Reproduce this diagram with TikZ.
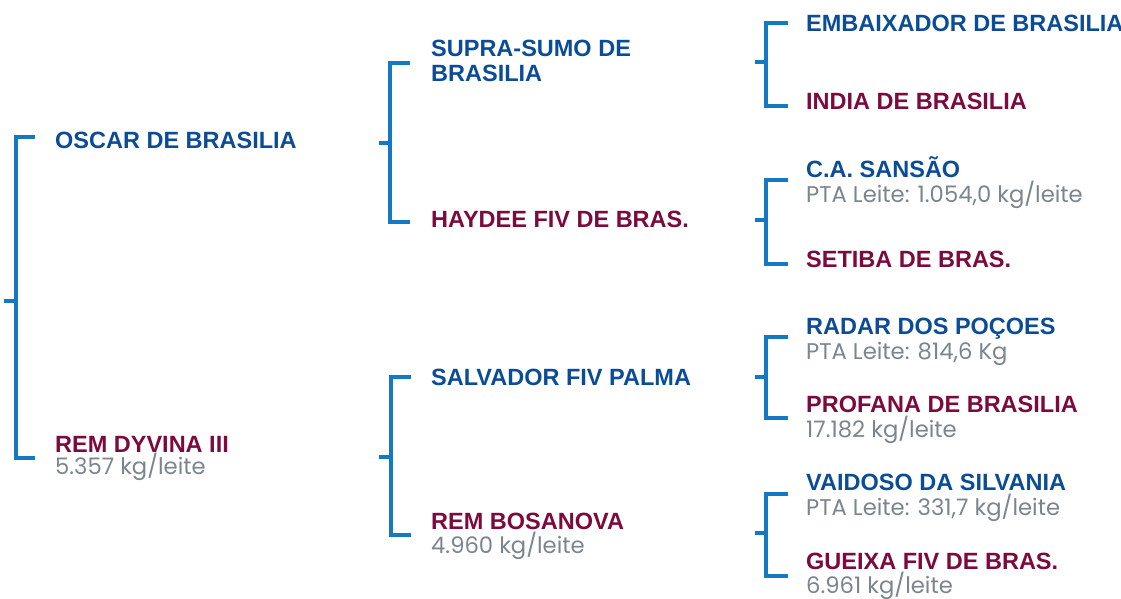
\documentclass[tikz,border=0pt]{standalone}
\usepackage{fontspec}
\setmainfont{Liberation Sans}
\newfontfamily\valfont{Poppins}
\definecolor{brk}{HTML}{1479C2}
\definecolor{nblue}{HTML}{0B4C97}
\definecolor{nred}{HTML}{7C0A3D}
\definecolor{ngray}{HTML}{7A858C}
\tikzset{
  nm/.style={anchor=base west,inner sep=0pt,font=\fontsize{23.5}{25}\selectfont\bfseries,align=left},
  male/.style={nm,text=nblue},
  female/.style={nm,text=nred},
  val/.style={anchor=base west,inner sep=0pt,font=\fontsize{22.7}{25}\selectfont\valfont,text=ngray},
  brack/.style={draw=brk,line width=3.2pt,line join=miter}
}
\begin{document}
\begin{tikzpicture}[x=1pt,y=-1pt]
\useasboundingbox (0,0) rectangle (1121,599);
% names
\node[male] (oscar) at (55,149) {OSCAR DE BRASILIA};
\node[female] (dyvina) at (55,452) {REM DYVINA III};
\node[val] (dyvinav) at (55,474) {5.357 kg/leite};
\node[male] (supra) at (431,82) {SUPRA-SUMO DE\\BRASILIA};
\node[female] (haydee) at (431,227) {HAYDEE FIV DE BRAS.};
\node[male] (salvador) at (431,385) {SALVADOR FIV PALMA};
\node[female] (bosanova) at (431,529) {REM BOSANOVA};
\node[val] (bosanovav) at (431,553) {4.960 kg/leite};
\node[male] (embaix) at (806,32) {EMBAIXADOR DE BRASILIA};
\node[female] (india) at (806,110) {INDIA DE BRASILIA};
\node[male] (sansao) at (806,177) {C.A. SANSÃO};
\node[val] (sansaov) at (806,202) {PTA Leite: 1.054,0 kg/leite};
\node[female] (setiba) at (806,267) {SETIBA DE BRAS.};
\node[male] (radar) at (806,334) {RADAR DOS POÇOES};
\node[val] (radarv) at (806,359) {PTA Leite: 814,6 Kg};
\node[female] (profana) at (806,412) {PROFANA DE BRASILIA};
\node[val] (profanav) at (806,437) {17.182 kg/leite};
\node[male] (vaidoso) at (806,490) {VAIDOSO DA SILVANIA};
\node[val] (vaidosov) at (806,515) {PTA Leite: 331,7 kg/leite};
\node[female] (gueixa) at (806,569) {GUEIXA FIV DE BRAS.};
\node[val] (gueixav) at (806,593) {6.961 kg/leite};
% brackets: vertical x, top y, bottom y, stub y, stub left x, right x
\foreach \vx/\ty/\by/\sy/\sx/\rx/\nm in {
  16/137/458/301/4/35/a,
  390/63/222/143/379/410/b,
  391/377/535/457/379/411/c,
  766/23/106/62/755/788/d,
  766/180/264/220/755/788/e,
  766/337/418/377/755/788/f,
  766/494/576/533/755/788/g}{
  \coordinate (tr\nm) at (\rx,\ty);
  \coordinate (br\nm) at (\rx,\by);
  \coordinate (sl\nm) at (\sx,\sy);
  \coordinate (v\nm) at (\vx,\sy);
  \draw[brack] (tr\nm) -- (tr\nm -| v\nm) -- (br\nm -| v\nm) -- (br\nm);
  \draw[brack] (sl\nm) -- (v\nm);
}
\end{tikzpicture}
\end{document}
